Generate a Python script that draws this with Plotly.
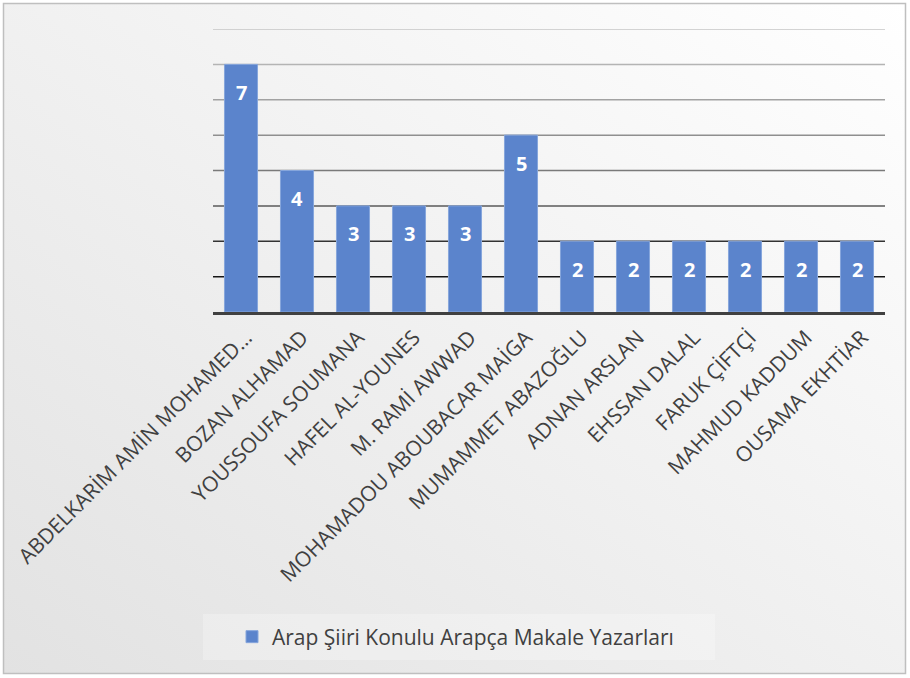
import base64
import plotly.graph_objects as go

# ---- data ----
authors = [
    "ABDELKARİM AMİN MOHAMED…",
    "BOZAN ALHAMAD",
    "YOUSSOUFA SOUMANA",
    "HAFEL AL-YOUNES",
    "M. RAMİ AWWAD",
    "MOHAMADOU ABOUBACAR MAİGA",
    "MUMAMMET ABAZOĞLU",
    "ADNAN ARSLAN",
    "EHSSAN DALAL",
    "FARUK ÇİFTÇİ",
    "MAHMUD KADDUM",
    "OUSAMA EKHTİAR",
]
counts = [7, 4, 3, 3, 3, 5, 2, 2, 2, 2, 2, 2]
series_name = "Arap Şiiri Konulu Arapça Makale Yazarları"
grid_levels = [1, 2, 3, 4, 5, 6, 7, 8]
grid_colors = ["#161616", "#333333", "#5a5a5a", "#7a7a7a", "#8f8f8f", "#a2a2a2", "#b4b4b4", "#c6c6c6"]

W, H = 910, 678
ML, MR, MT, MB = 213, 25, 29, 366
PW, PH = W - ML - MR, H - MT - MB

FONT = "Open Sans"
BLUE = "#5b84cc"

# background gradient + border as an SVG image
svg = f'''<svg xmlns="http://www.w3.org/2000/svg" width="{W}" height="{H}">
<defs><linearGradient id="g" x1="1" y1="0" x2="0" y2="1">
<stop offset="0" stop-color="#ffffff"/><stop offset="1" stop-color="#e2e2e2"/></linearGradient></defs>
<rect x="0" y="0" width="{W}" height="{H}" fill="#ffffff"/>
<rect x="3.5" y="3.5" width="{W-8}" height="{H-8}" fill="url(#g)" stroke="#bfbfbf" stroke-width="1.5"/>
</svg>'''
src = "data:image/svg+xml;base64," + base64.b64encode(svg.encode()).decode()

fig = go.Figure()
fig.add_trace(go.Bar(
    x=authors, y=counts, name=series_name,
    marker=dict(color=BLUE, line=dict(color="#86a6dc", width=1)),
    showlegend=True, hoverinfo="skip",
))

# data labels (inside end)
for a, v in zip(authors, counts):
    fig.add_annotation(x=a, y=v, text=str(v), showarrow=False, yshift=-28,
                       font=dict(family=FONT, size=20, color="white", weight="bold"))

shapes = []
for lv, c in zip(grid_levels, grid_colors):
    shapes.append(dict(type="line", xref="paper", yref="y", x0=0, x1=1, y0=lv, y1=lv,
                       line=dict(color=c, width=1.5), layer="below"))
# legend box
shapes.append(dict(type="rect", xref="paper", yref="paper",
                   x0=(203 - ML) / PW, x1=(715 - ML) / PW,
                   y0=(MT + PH - 660) / PH, y1=(MT + PH - 614) / PH,
                   fillcolor="rgba(255,255,255,0.25)", line=dict(width=0), layer="below"))

fig.update_layout(
    width=W, height=H,
    margin=dict(l=ML, r=MR, t=MT, b=MB),
    paper_bgcolor="rgba(0,0,0,0)", plot_bgcolor="rgba(0,0,0,0)",
    bargap=0.41,
    font=dict(family=FONT, color="#404040"),
    images=[dict(source=src, xref="paper", yref="paper",
                 x=-ML / PW, y=1 + MT / PH, sizex=W / PW, sizey=H / PH,
                 xanchor="left", yanchor="top", sizing="stretch", layer="below")],
    shapes=shapes,
    xaxis=dict(tickangle=-45, tickfont=dict(size=21, color="#404040", family=FONT),
               showline=True, linecolor="#404040", linewidth=3, ticks="",
               ticklabelshift=5, ticklabelstandoff=2,
               showgrid=False, fixedrange=True, automargin=False),
    yaxis=dict(range=[0, 8], showticklabels=False, showgrid=False, zeroline=False,
               ticks="", fixedrange=True, automargin=False),
    legend=dict(orientation="h", xref="container", yref="container",
                x=232 / W, xanchor="left", y=(H - 637) / H, yanchor="middle",
                font=dict(size=21, color="#404040", family=FONT),
                bgcolor="rgba(0,0,0,0)"),
)

fig.write_html("out.html", config={"displayModeBar": False},
               post_script="document.body.style.margin='0';document.body.style.overflow='hidden';")
